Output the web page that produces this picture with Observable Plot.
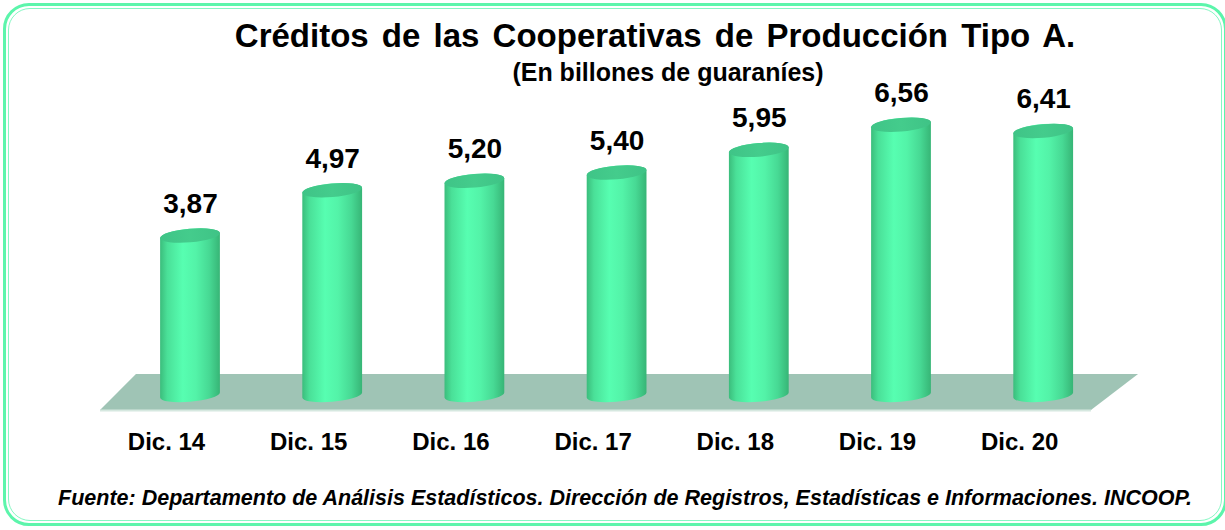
<!DOCTYPE html>
<html>
<head>
<meta charset="utf-8">
<script src="https://cdn.jsdelivr.net/npm/d3@7"></script>
<script src="https://cdn.jsdelivr.net/npm/@observablehq/plot@0.6"></script>
<style>
  html, body { margin: 0; padding: 0; background: #fff; }
  #frame { position: relative; width: 1225px; height: 530px; overflow: hidden;
           font-family: "Liberation Sans", Arial, sans-serif; color: #000; }
  #border1 { position: absolute; left: 3px; top: 3px; width: 1224px; height: 523px;
             border: 3px solid #5cf5ab; border-radius: 26px; box-sizing: border-box; }
  #border2 { position: absolute; left: 8px; top: 8px; width: 1214px; height: 513px;
             border: 1.5px solid #86f7c3; border-radius: 22px; box-sizing: border-box; }
  #header { position: relative; height: 88px; }
  #title { position: absolute; left: 0; width: 1310px; top: 19px; text-align: center;
           font-size: 33px; line-height: 33px; font-weight: bold; word-spacing: 4px; white-space: nowrap; }
  #subtitle { position: absolute; left: 0; width: 1336px; top: 60px; text-align: center;
              font-size: 25px; line-height: 25px; font-weight: bold; white-space: nowrap; }
  #chart { position: relative; height: 382px; }
  #chart svg { display: block; }
  #footer { position: absolute; left: 0; width: 1250px; top: 488px; text-align: center;
            font-size: 21.5px; line-height: 21px; font-weight: bold; font-style: italic; white-space: nowrap; }
</style>
</head>
<body>
<div id="frame">
  <div id="border1"></div>
  <div id="border2"></div>
  <div id="header">
    <div id="title">Créditos de las Cooperativas de Producción Tipo A.</div>
    <div id="subtitle">(En billones de guaraníes)</div>
  </div>
  <div id="chart"></div>
  <div id="footer">Fuente: Departamento de Análisis Estadísticos. Dirección de Registros, Estadísticas e Informaciones. INCOOP.</div>
</div>
<script>
// ---- data ----
const categories = ["Dic. 14", "Dic. 15", "Dic. 16", "Dic. 17", "Dic. 18", "Dic. 19", "Dic. 20"];
const values = [3.87, 4.97, 5.20, 5.40, 5.95, 6.56, 6.41];
const valueLabels = ["3,87", "4,97", "5,20", "5,40", "5,95", "6,56", "6,41"];

const rows = categories.map((c, i) => ({i, cat: c, value: values[i], label: valueLabels[i]}));
const n = categories.length;

// floor plane (in data units, relative to the category range)
const floorRows = [
  {y: -0.364, x1: -0.633, x2: (n - 1) + 0.336},
  {y: 0.51,   x1: -0.38,  x2: (n - 1) + 0.667}
];

const NS = "http://www.w3.org/2000/svg";
const RX = 30, RY = 6.8, TILT = -5; // cylinder style

function el(name, attrs) {
  const e = document.createElementNS(NS, name);
  for (const k in attrs) e.setAttribute(k, attrs[k]);
  return e;
}

function cylinders(index, scales) {
  const g = el("g", {});
  const defs = el("defs", {});
  const body = el("linearGradient", {id: "cylBody", x1: "0", x2: "1", y1: "0", y2: "0"});
  [["0%", "#3bbd7c"], ["12%", "#4ae098"], ["38%", "#57feb1"], ["60%", "#53f3a8"], ["82%", "#47d994"], ["100%", "#37b576"]]
    .forEach(([o, c]) => body.appendChild(el("stop", {offset: o, "stop-color": c})));
  const cap = el("linearGradient", {id: "cylCap", x1: "0", x2: "1", y1: "0", y2: "0"});
  [["0%", "#3fc487"], ["50%", "#44cc8c"], ["100%", "#3fc386"]]
    .forEach(([o, c]) => cap.appendChild(el("stop", {offset: o, "stop-color": c})));
  defs.appendChild(body); defs.appendChild(cap);
  g.appendChild(defs);

  const phi = TILT * Math.PI / 180;
  const t0 = Math.atan(-RY * Math.sin(phi) / (RX * Math.cos(phi)));
  const xr = RX * Math.cos(t0) * Math.cos(phi) - RY * Math.sin(t0) * Math.sin(phi);
  const yr = RX * Math.cos(t0) * Math.sin(phi) + RY * Math.sin(t0) * Math.cos(phi);

  rows.forEach(d => {
    const cx = scales.x(d.i), top = scales.y(d.value), bot = scales.y(0);
    const p = `M${cx - xr},${top - yr} L${cx - xr},${bot - yr} ` +
      `A${RX},${RY} ${TILT} 0 0 ${cx + xr},${bot + yr} ` +
      `L${cx + xr},${top + yr} A${RX},${RY} ${TILT} 0 0 ${cx - xr},${top - yr} Z`;
    g.appendChild(el("path", {d: p, fill: "url(#cylBody)"}));
    g.appendChild(el("ellipse", {cx, cy: top, rx: RX, ry: RY, fill: "url(#cylCap)",
      transform: `rotate(${TILT} ${cx} ${top})`}));
  });
  return g;
}

const chart = Plot.plot({
  width: 1225,
  height: 382,
  marginLeft: 47.8,
  marginRight: 39.6,
  marginTop: 18.6,
  marginBottom: 75,
  style: {background: "transparent", overflow: "visible", fontFamily: "'Liberation Sans', Arial, sans-serif", color: "#000"},
  x: {domain: [-1, n]},
  y: {domain: [0, 7], axis: null},
  marks: [
    Plot.areaX(floorRows, {y: "y", x1: "x1", x2: "x2", fill: "#9fc4b5"}),
    Plot.ruleY([floorRows[0].y], {x1: () => floorRows[0].x1, x2: () => floorRows[0].x2, stroke: "#d6e8e0", strokeWidth: 2}),
    cylinders,
    Plot.text(rows, {x: "i", y: "value", text: "label", dy: -32, fontSize: 28, fontWeight: "bold", fill: "#000"}),
    Plot.axisX(d3.range(n), {
      tickFormat: i => categories[i], tickSize: 0, tickPadding: 37, dx: -24,
      fontSize: 24, fontWeight: "bold", fill: "#000", label: null
    })
  ]
});
document.getElementById("chart").appendChild(chart);
</script>
</body>
</html>
